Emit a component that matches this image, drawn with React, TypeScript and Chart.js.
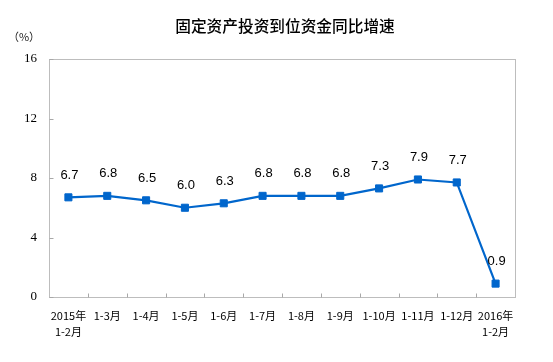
import React, { useEffect, useRef } from "react";
import { Chart, registerables } from "chart.js";

Chart.register(...registerables);

const TITLE = "固定资产投资到位资金同比增速";
const UNIT = "（%）";
const CATEGORIES: (string | string[])[] = [
  ["2015年", "1-2月"],
  "1-3月",
  "1-4月",
  "1-5月",
  "1-6月",
  "1-7月",
  "1-8月",
  "1-9月",
  "1-10月",
  "1-11月",
  "1-12月",
  ["2016年", "1-2月"],
];
const VALUES = [6.7, 6.8, 6.5, 6.0, 6.3, 6.8, 6.8, 6.8, 7.3, 7.9, 7.7, 0.9];
const Y_MIN = 0;
const Y_MAX = 16;
const Y_STEP = 4;

const LINE_COLOR = "#0066CC";
const CJK = '"Noto Sans CJK SC", "Noto Sans", sans-serif';

const decorPlugin = {
  id: "decor",
  afterDraw(chart: any) {
    const { ctx, chartArea } = chart;
    const x = chart.scales.x;
    const y = chart.scales.y;
    const l = Math.round(chartArea.left) + 0.5;
    const r = Math.round(chartArea.right) + 0.5;
    const t = Math.round(chartArea.top) + 0.5;
    const b = Math.round(chartArea.bottom) + 0.5;
    ctx.save();
    // border box
    ctx.strokeStyle = "#BDBDBD";
    ctx.lineWidth = 1;
    ctx.strokeRect(l, t, r - l, b - t);
    ctx.strokeStyle = "#A8A8A8";
    ctx.beginPath();
    // x ticks at category boundaries, pointing up
    for (let i = 1; i < CATEGORIES.length; i++) {
      const px = Math.round((x.getPixelForValue(i - 1) + x.getPixelForValue(i)) / 2) + 0.5;
      ctx.moveTo(px, b);
      ctx.lineTo(px, b - 4);
    }
    // y ticks inward
    for (let v = Y_MIN; v <= Y_MAX; v += Y_STEP) {
      const py = Math.round(y.getPixelForValue(v)) + 0.5;
      ctx.moveTo(l, py);
      ctx.lineTo(l + 4, py);
    }
    ctx.stroke();
    // title
    ctx.fillStyle = "#000";
    ctx.font = `500 15.7px ${CJK}`;
    ctx.textAlign = "center";
    ctx.textBaseline = "middle";
    ctx.fillText(TITLE, 285, 26);
    // unit
    ctx.font = `11px ${CJK}`;
    ctx.fillStyle = "#222";
    ctx.fillText(UNIT, 24, 37);
    // data labels
    const meta = chart.getDatasetMeta(0);
    ctx.font = '13px "Liberation Sans", Arial, sans-serif';
    ctx.fillStyle = "#000";
    meta.data.forEach((pt: any, i: number) => {
      ctx.fillText(VALUES[i].toFixed(1), pt.x + 1, pt.y - 22);
    });
    ctx.restore();
  },
};

export default function App() {
  const ref = useRef<HTMLCanvasElement>(null);
  useEffect(() => {
    document.body.style.margin = "0";
    const chart = new Chart(ref.current!, {
      type: "line",
      data: {
        labels: CATEGORIES,
        datasets: [
          {
            data: VALUES,
            borderColor: LINE_COLOR,
            backgroundColor: LINE_COLOR,
            borderWidth: 2.2,
            pointStyle: "rect",
            pointRadius: 5,
            pointBorderWidth: 1,
            pointBackgroundColor: LINE_COLOR,
            pointBorderColor: LINE_COLOR,
            tension: 0,
          },
        ],
      },
      options: {
        animation: false,
        responsive: false,
        maintainAspectRatio: false,
        events: [],
        layout: { padding: { top: 59, right: 38, left: 0, bottom: 0 } },
        plugins: {
          legend: { display: false },
          title: { display: false },
          tooltip: { enabled: false },
        },
        scales: {
          x: {
            type: "category",
            offset: true,
            grid: { display: false, drawTicks: false },
            border: { display: false },
            ticks: {
              autoSkip: false,
              maxRotation: 0,
              minRotation: 0,
              padding: 11,
              color: "#000",
              font: { family: CJK, size: 11, lineHeight: 1.45 },
            },
            afterFit: (s: any) => {
              s.height = 65;
            },
          },
          y: {
            min: Y_MIN,
            max: Y_MAX,
            ticks: {
              stepSize: Y_STEP,
              padding: 12,
              color: "#000",
              font: { family: '"Liberation Serif", "Times New Roman", serif', size: 13 },
            },
            grid: { display: false, drawTicks: false },
            border: { display: false },
            afterFit: (s: any) => {
              s.width = 49;
            },
          },
        },
      },
      plugins: [decorPlugin],
    });
    return () => chart.destroy();
  }, []);
  return (
    <div style={{ width: 553, height: 362 }}>
      <canvas ref={ref} width={553} height={362} style={{ display: "block" }} />
    </div>
  );
}
